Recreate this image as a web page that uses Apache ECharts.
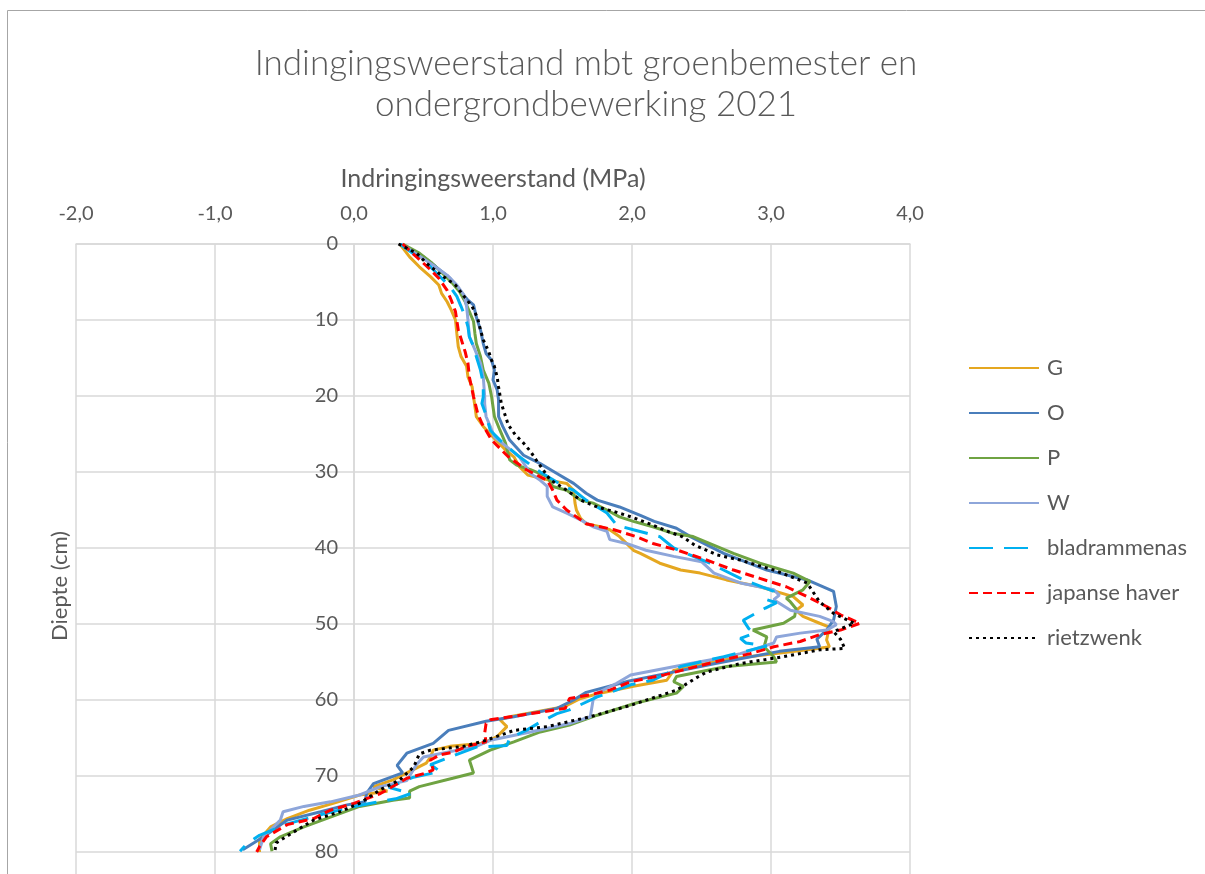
<!DOCTYPE html>
<html>
<head>
<meta charset="utf-8">
<script src="https://cdn.jsdelivr.net/npm/echarts@6/dist/echarts.min.js"></script>
<style>
  html, body { margin: 0; padding: 0; background: #fff; }
  #main { width: 1205px; height: 874px; }
</style>
</head>
<body>
<div id="main"></div>
<script>
// x-as ticks (MPa), y-as ticks (cm)
const xTicks = [-2, -1, 0, 1, 2, 3, 4];
const depthTicks = [0, 10, 20, 30, 40, 50, 60, 70, 80, 90];

// meetreeksen: [indringingsweerstand MPa, diepte cm]
const serieG = [[0.33,0],[0.40,1.7],[0.47,3],[0.55,4.3],[0.61,5.4],[0.63,6.5],[0.67,7.6],[0.70,8.7],[0.73,10],[0.74,11.8],[0.75,13.5],[0.77,14.8],[0.81,16.1],[0.82,17.5],[0.85,18.8],[0.86,20.1],[0.88,22.7],[0.93,24],[1.00,25.4],[1.09,27.1],[1.15,28],[1.19,29.3],[1.25,30.4],[1.34,30.8],[1.41,31.1],[1.53,31.5],[1.58,32.4],[1.59,34.1],[1.60,35],[1.63,36.1],[1.67,36.8],[1.77,37.2],[1.84,37.6],[1.91,38.5],[1.96,39.4],[2.01,40.3],[2.06,40.7],[2.20,42],[2.35,42.9],[2.49,43.3],[2.68,44.2],[2.92,45.1],[3.16,46.4],[3.23,47.5],[3.18,48.2],[3.23,49],[3.35,49.9],[3.42,50.4],[3.40,52.1],[3.42,53],[3.35,53.2],[3.02,53.9],[2.66,54.7],[2.30,56.1],[2.25,57.4],[2.01,58.2],[1.77,59.1],[1.63,59.8],[1.51,60.9],[1.12,62.2],[1.05,62.6],[1.10,63.5],[1.03,64.8],[0.93,65.7],[0.69,66.1],[0.57,66.6],[0.55,67.5],[0.52,68.3],[0.38,69.6],[0.28,70.5],[0.14,71.4],[0.24,72],[0.04,72.5],[-0.15,73.6],[-0.32,74.5],[-0.48,75.6],[-0.60,76.7],[-0.68,78.4],[-0.68,80]];
const serieO = [[0.34,0],[0.50,1.7],[0.59,3],[0.69,4.5],[0.76,6.1],[0.82,7.4],[0.86,8],[0.88,9.6],[0.91,11.3],[0.93,13.1],[0.95,14.4],[0.99,15.3],[1.01,16.6],[1.00,17.9],[1.03,19.2],[1.04,20.5],[1.04,22.7],[1.07,24],[1.12,25.8],[1.22,27.8],[1.34,28.9],[1.46,30.2],[1.58,31.5],[1.67,32.8],[1.75,33.7],[1.91,34.6],[2.06,35.7],[2.16,36.5],[2.32,37.4],[2.42,38.5],[2.66,40.7],[2.97,42.9],[3.26,44.2],[3.45,45.7],[3.47,47.7],[3.45,49.5],[3.40,50.8],[3.33,52],[3.35,53],[3.06,53.6],[2.60,55.2],[2.25,56.5],[1.98,57.5],[1.67,59],[1.58,60],[1.46,61.1],[1.15,62.2],[0.95,62.8],[0.68,64],[0.57,65.7],[0.38,67],[0.31,68.6],[0.35,69.6],[0.14,71],[0.09,72.3],[0.08,73.4],[-0.05,73.8],[-0.24,74.7],[-0.48,75.8],[-0.65,78],[-0.80,79.7]];
const serieP = [[0.35,0],[0.47,1.2],[0.56,2.5],[0.64,3.9],[0.71,5.2],[0.76,6.3],[0.80,7.6],[0.83,8.9],[0.86,10.2],[0.87,11.8],[0.88,13.1],[0.91,14.8],[0.93,16.6],[0.97,18.3],[0.99,20.1],[1.01,22.7],[1.05,24.5],[1.09,26.2],[1.12,28.4],[1.17,29.1],[1.27,29.7],[1.39,30.6],[1.43,31.9],[1.53,32.4],[1.63,33.7],[1.72,34.1],[1.82,35],[1.91,35.9],[2.01,36.5],[2.15,37.2],[2.30,38.1],[2.44,38.5],[2.73,40.7],[2.92,42],[3.16,43.3],[3.28,44.4],[3.23,45.5],[3.11,46.6],[3.14,47.1],[3.18,48],[3.17,49],[3.09,49.9],[2.87,50.8],[2.97,51.7],[2.95,53],[3.02,54.3],[3.04,55],[2.68,55.6],[2.32,56.9],[2.30,57.6],[2.37,58.2],[2.32,59.1],[2.03,60.4],[1.75,62],[1.55,63.3],[1.34,64.2],[1.15,65.5],[0.98,66.6],[0.83,67.9],[0.86,69.6],[0.71,70.3],[0.47,71.4],[0.40,72],[0.40,72.9],[0.28,73.2],[0.04,74],[-0.17,75.4],[-0.36,76.7],[-0.53,78],[-0.60,78.9],[-0.59,79.9]];
const serieW = [[0.34,0],[0.57,2.8],[0.67,4.1],[0.74,5.4],[0.79,6.7],[0.81,8.2],[0.82,10],[0.83,12.2],[0.87,13.9],[0.91,15.7],[0.93,17.5],[0.94,20],[0.94,21],[0.95,22.7],[0.98,24],[1.01,25.4],[1.10,26.7],[1.19,28],[1.27,30.2],[1.34,31.1],[1.39,31.9],[1.39,33.2],[1.43,34.6],[1.53,35.4],[1.63,36.3],[1.72,37.2],[1.82,37.8],[1.84,38.9],[1.96,39.4],[2.10,40.3],[2.30,41.1],[2.50,41.8],[2.59,43.3],[2.78,44.6],[3.02,45.5],[3.06,46.2],[3.02,46.8],[3.14,48.2],[3.35,49],[3.45,49.7],[3.47,50.1],[3.40,50.8],[3.21,51.2],[3.04,51.7],[3.02,52.5],[2.78,53.9],[2.63,54.5],[2.42,55.2],[1.99,56.7],[1.89,57.8],[1.75,59.1],[1.72,60],[1.70,62.2],[1.55,63.1],[1.27,64.2],[0.98,65.3],[0.88,66.1],[0.50,67.5],[0.45,68.5],[0.38,70.6],[0.19,71.4],[0.04,72.5],[-0.17,73.4],[-0.36,74],[-0.51,74.7],[-0.53,75.8],[-0.65,78],[-0.68,79.7]];
const serieBladrammenas = [[0.33,0],[0.46,1.7],[0.55,3],[0.62,4.3],[0.69,5.6],[0.74,6.9],[0.77,8.2],[0.80,9.6],[0.82,10.9],[0.83,12.2],[0.86,13.5],[0.88,14.8],[0.91,16.6],[0.93,18.3],[0.93,20.1],[0.92,21],[0.95,22.5],[0.98,24.5],[1.05,25.8],[1.19,28],[1.34,30],[1.51,31.9],[1.58,32.4],[1.67,33.7],[1.82,35.4],[1.89,37],[2.01,37.6],[2.20,38.5],[2.30,40],[2.56,42],[2.78,44],[3.02,45.7],[2.97,46.8],[3.04,47.2],[2.96,47.9],[2.80,49.5],[2.84,50.6],[2.88,51.2],[2.78,51.9],[2.82,52.5],[2.97,52.9],[2.66,54.3],[2.35,55.6],[2.15,57.4],[1.99,58],[1.75,59.6],[1.55,61.3],[1.46,61.8],[1.34,62.9],[1.24,64],[1.12,65],[1.10,66],[0.88,66.2],[0.69,67.5],[0.55,68.5],[0.62,69.4],[0.42,70.2],[0.25,71.5],[0.41,72.3],[0.30,73],[0.15,73.5],[0.00,74],[-0.22,75],[-0.48,76.3],[-0.68,77.8],[-0.77,78.9],[-0.82,79.9]];
const serieJapanseHaver = [[0.35,0],[0.45,1.7],[0.54,3.2],[0.61,4.5],[0.67,6.1],[0.70,7.4],[0.73,8.9],[0.75,11.3],[0.80,14.2],[0.82,15.7],[0.83,17.5],[0.86,20.1],[0.89,22.3],[0.92,23.6],[0.99,25.8],[1.11,28],[1.24,29.7],[1.39,31.1],[1.43,32.4],[1.46,33.7],[1.53,35],[1.67,36.8],[1.87,37.6],[2.03,38.5],[2.15,39.4],[2.33,40.3],[2.54,41.6],[2.73,42.9],[2.92,44],[3.11,45.1],[3.26,46.4],[3.40,47.7],[3.50,48.8],[3.64,49.9],[3.50,50.8],[3.35,51.4],[3.21,52.3],[3.02,53],[2.85,53.9],[2.66,54.7],[2.42,55.8],[2.23,56.7],[1.99,57.6],[1.84,58.7],[1.70,59.3],[1.55,59.8],[1.52,61.1],[1.27,61.8],[0.98,62.6],[0.95,63.1],[0.94,64.4],[0.95,65.5],[0.81,66.1],[0.71,66.9],[0.62,67.2],[0.55,67.9],[0.57,69.2],[0.52,69.6],[0.38,70.3],[0.19,72.3],[0.00,73.6],[-0.17,74.5],[-0.29,75.6],[-0.48,76.4],[-0.63,78],[-0.68,79.3],[-0.70,80]];
const serieRietzwenk = [[0.32,0],[0.45,1.2],[0.52,2.5],[0.62,4],[0.73,5.4],[0.80,7.1],[0.85,8.2],[0.89,9.8],[0.91,11.3],[0.93,12.6],[0.97,14.2],[0.99,15.3],[1.01,16.1],[1.03,17.5],[1.04,18.8],[1.06,21],[1.11,23.8],[1.16,25.1],[1.22,26.2],[1.27,27.3],[1.31,28.4],[1.36,29.7],[1.41,31],[1.53,32.4],[1.63,33.7],[1.75,34.6],[1.87,35.2],[2.01,36],[2.15,37],[2.27,37.9],[2.36,38.5],[2.45,39.6],[2.61,40.9],[2.78,41.6],[3.02,42.9],[3.26,44.6],[3.35,47.1],[3.45,48.6],[3.60,49.9],[3.45,51],[3.50,52],[3.53,53.2],[3.35,53.4],[3.09,54.3],[2.78,55.2],[2.54,56.3],[2.47,57],[2.32,58.7],[1.99,60.7],[1.70,62.2],[1.39,63.5],[1.15,64],[0.95,65.3],[0.79,66.1],[0.55,66.6],[0.47,67.1],[0.43,68.8],[0.33,70.5],[0.19,71.8],[0.04,73.6],[-0.10,74.7],[-0.29,75.8],[-0.41,77.1],[-0.56,78.8],[-0.57,80]];

const seriesNames = ['G', 'O', 'P', 'W', 'bladrammenas', 'japanse haver', 'rietzwenk'];
const seriesData = [serieG, serieO, serieP, serieW, serieBladrammenas, serieJapanseHaver, serieRietzwenk];
const seriesColors = ['#E5A720', '#4A7EBB', '#6FA342', '#8EA6DA', '#00B0F0', '#FF0000', '#000000'];
const seriesDash = ['solid', 'solid', 'solid', 'solid', [24, 11], [9, 5], [3, 4]];

const gridColor = '#d9d9d9';
const textColor = '#595959';
const fontFamily = 'Lato, "Open Sans", sans-serif';

const chart = echarts.init(document.getElementById('main'));

const series = seriesNames.map((name, i) => ({
  name: name,
  type: 'line',
  data: seriesData[i],
  symbol: 'none',
  smooth: false,
  animation: false,
  color: seriesColors[i],
  lineStyle: { color: seriesColors[i], width: 3, type: seriesDash[i] }
}));

chart.setOption({
  backgroundColor: '#fff',
  animation: false,
  title: {
    text: 'Indingingsweerstand mbt groenbemester en\nondergrondbewerking 2021',
    left: 581,
    top: 38,
    textAlign: 'center',
    textStyle: {
      color: textColor,
      fontFamily: fontFamily,
      fontWeight: 300,
      fontSize: 35,
      lineHeight: 41
    }
  },
  graphic: [{
    type: 'rect',
    shape: { x: 7.5, y: 10.5, width: 1300, height: 1000 },
    style: { fill: 'none', stroke: '#a6a6a6', lineWidth: 1 },
    silent: true
  }],
  legend: {
    orient: 'vertical',
    left: 963,
    top: 351,
    itemWidth: 70,
    itemHeight: 14,
    itemGap: 21,
    itemStyle: { opacity: 0 },
    data: seriesNames,
    textStyle: { color: textColor, fontFamily: fontFamily, fontSize: 22, lineHeight: 24, padding: [0, 0, 0, 3] }
  },
  grid: { left: 76, top: 244, width: 834, height: 684, containLabel: false, outerBoundsMode: 'none' },
  xAxis: {
    type: 'value',
    position: 'top',
    min: xTicks[0],
    max: xTicks[xTicks.length - 1],
    interval: 1,
    name: 'Indringingsweerstand (MPa)',
    nameLocation: 'middle',
    nameGap: 53,
    nameTextStyle: { color: textColor, fontFamily: fontFamily, fontSize: 25 },
    axisLine: { show: true, lineStyle: { color: gridColor, width: 1.5 } },
    axisTick: { show: false },
    axisLabel: {
      color: textColor,
      fontFamily: fontFamily,
      fontSize: 20,
      margin: 20,
      formatter: v => v.toFixed(1).replace('.', ',')
    },
    splitLine: { show: true, lineStyle: { color: gridColor, width: 1.5 } }
  },
  yAxis: {
    type: 'value',
    inverse: true,
    min: depthTicks[0],
    max: depthTicks[depthTicks.length - 1],
    interval: 10,
    offset: -278,
    name: 'Diepte (cm)',
    nameLocation: 'middle',
    nameGap: 283,
    nameTextStyle: { color: textColor, fontFamily: fontFamily, fontSize: 22 },
    axisLine: { show: true, onZero: false, lineStyle: { color: gridColor, width: 1.5 } },
    axisTick: { show: false },
    axisLabel: { color: textColor, fontFamily: fontFamily, fontSize: 20, margin: 16 },
    splitLine: { show: true, lineStyle: { color: gridColor, width: 1.5 } }
  },
  series: series
});
</script>
</body>
</html>
